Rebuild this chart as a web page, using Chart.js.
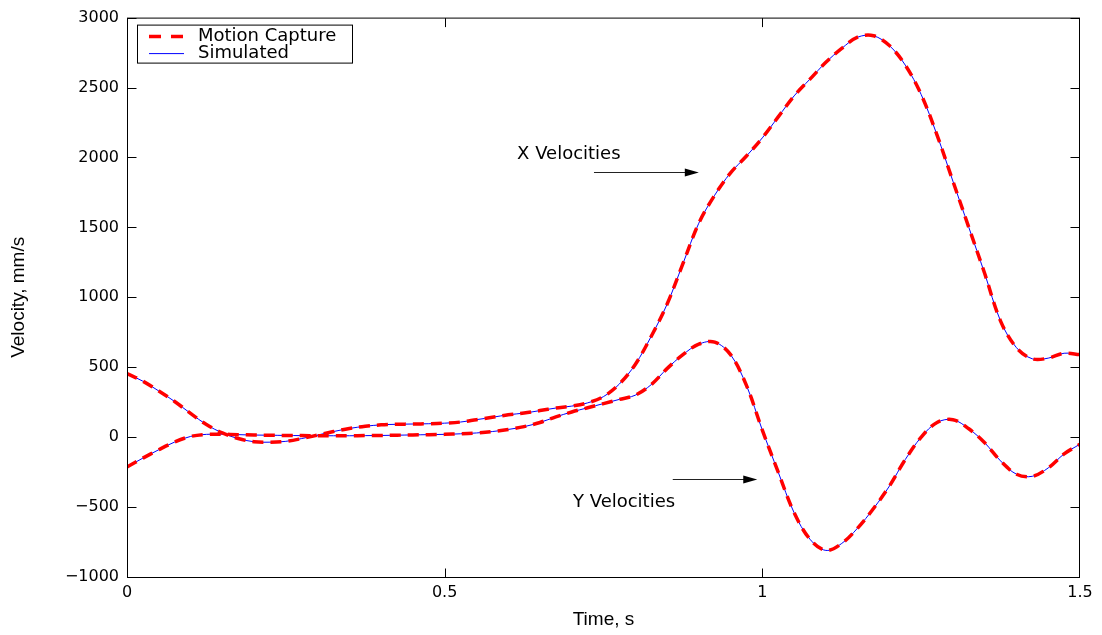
<!DOCTYPE html>
<html>
<head>
<meta charset="utf-8">
<script src="https://cdn.jsdelivr.net/npm/chart.js@4/dist/chart.umd.min.js"></script>
<style>
  body { margin: 0; background: #fff; }
  canvas { display: block; }
</style>
</head>
<body>
<canvas id="velocityChart" width="1102" height="635"></canvas>
<script>
// time axis, seconds
const times = [
    0, 0.025, 0.05, 0.075, 0.1, 0.125, 0.15, 0.175, 0.2, 0.225,
    0.25, 0.275, 0.3, 0.325, 0.35, 0.375, 0.4, 0.425, 0.45, 0.475,
    0.5, 0.525, 0.55, 0.575, 0.6, 0.625, 0.65, 0.675, 0.7, 0.725,
    0.75, 0.775, 0.8, 0.825, 0.85, 0.875, 0.9, 0.925, 0.95, 0.975,
    1.0, 1.025, 1.05, 1.075, 1.1, 1.125, 1.15, 1.175, 1.2, 1.225,
    1.25, 1.275, 1.3, 1.325, 1.35, 1.375, 1.4, 1.425, 1.45, 1.475, 1.5
];

// X velocities, mm/s
const xVelocity = [
    455, 400, 330, 255, 170, 90, 30, -10, -33, -36,
    -30, -10, 15, 40, 62, 78, 88, 92, 94, 96,
    100, 108, 125, 142, 160, 172, 190, 208, 222, 245,
    290, 380, 520, 720, 950, 1240, 1530, 1730, 1890, 2010,
    2140, 2290, 2440, 2560, 2680, 2780, 2860, 2870, 2800, 2660,
    2450, 2160, 1830, 1500, 1170, 830, 640, 560, 565, 600, 590
];

// Y velocities, mm/s
const yVelocity = [
    -213, -150, -90, -35, 5, 20, 21, 18, 15, 14,
    12, 11, 10, 10, 10, 11, 12, 14, 16, 18,
    20, 24, 30, 40, 55, 75, 105, 145, 180, 210,
    240, 270, 300, 375, 490, 590, 665, 680, 590, 370,
    50, -250, -540, -730, -810, -760, -650, -510, -350, -160,
    0, 105, 125, 60, -40, -170, -265, -280, -220, -120, -50
];

const xTickValues = [0, 0.5, 1, 1.5];
const yTickValues = [-1000, -500, 0, 500, 1000, 1500, 2000, 2500, 3000];
const seriesNames = ['Motion Capture', 'Simulated'];

// text + arrow notes, in data units
const notes = [
    { text: 'X Velocities', t: 0.614, v: 2025, from: 0.735, to: 0.900, at: 1895 },
    { text: 'Y Velocities', t: 0.702, v: -466, from: 0.859, to: 0.992, at: -302 }
];

const captureStyle = { borderColor: '#ff0000', borderWidth: 3.5, borderDash: [11, 7] };
const simStyle = { borderColor: '#0000ff', borderWidth: 1, borderDash: [] };

function toPoints(ys) {
    return times.map((t, i) => ({ x: t, y: ys[i] }));
}

function fmt(v) {
    return v < 0 ? '\u2212' + Math.abs(v) : String(v);
}

// MATLAB-ish box, inward ticks, legend and notes
const matlabFrame = {
    id: 'matlabFrame',
    afterDatasetsDraw(chart) {
        const ctx = chart.ctx;
        const area = chart.chartArea;
        const xs = chart.scales.x;
        const ys = chart.scales.y;
        const tickLen = 9;
        const L = area.left + 0.5, R = area.right - 0.5;
        const T = area.top + 0.5, B = area.bottom + 0.5;

        ctx.save();
        ctx.strokeStyle = '#000';
        ctx.lineWidth = 1;
        ctx.strokeRect(L, T, R - L, B - T);

        ctx.beginPath();
        xTickValues.forEach(v => {
            const px = Math.min(Math.max(Math.round(xs.getPixelForValue(v)) + 0.5, L), R);
            ctx.moveTo(px, B);
            ctx.lineTo(px, B - tickLen);
            ctx.moveTo(px, T);
            ctx.lineTo(px, T + tickLen);
        });
        yTickValues.forEach(v => {
            const py = Math.min(Math.max(Math.round(ys.getPixelForValue(v)) + 0.5, T), B);
            ctx.moveTo(L, py);
            ctx.lineTo(L + tickLen, py);
            ctx.moveTo(R, py);
            ctx.lineTo(R - tickLen, py);
        });
        ctx.stroke();

        // legend
        const lx = area.left + 10, ly = area.top + 7;
        ctx.fillStyle = '#fff';
        ctx.fillRect(lx, ly, 215, 38);
        ctx.strokeRect(lx + 0.5, ly + 0.5, 215, 38);
        ctx.font = '18px "DejaVu Sans"';
        ctx.textBaseline = 'middle';
        ctx.fillStyle = '#000';
        [captureStyle, simStyle].forEach((s, i) => {
            const yy = ly + 12 + i * 17;
            ctx.save();
            ctx.strokeStyle = s.borderColor;
            ctx.lineWidth = s === captureStyle ? 3.5 : 1;
            ctx.setLineDash(s === captureStyle ? [12, 10] : []);
            ctx.beginPath();
            ctx.moveTo(lx + 12, yy);
            ctx.lineTo(lx + 47, yy);
            ctx.stroke();
            ctx.restore();
            ctx.fillText(seriesNames[i], lx + 61, yy);
        });

        // notes with arrows
        notes.forEach(n => {
            ctx.fillStyle = '#000';
            ctx.textAlign = 'left';
            ctx.fillText(n.text, xs.getPixelForValue(n.t), ys.getPixelForValue(n.v));
            const x0 = xs.getPixelForValue(n.from);
            const x1 = xs.getPixelForValue(n.to);
            const y0 = Math.round(ys.getPixelForValue(n.at)) + 0.5;
            ctx.strokeStyle = '#222';
            ctx.beginPath();
            ctx.moveTo(x0, y0);
            ctx.lineTo(x1 - 12, y0);
            ctx.stroke();
            ctx.beginPath();
            ctx.moveTo(x1, y0);
            ctx.lineTo(x1 - 14, y0 - 4);
            ctx.lineTo(x1 - 14, y0 + 4);
            ctx.closePath();
            ctx.fill();
        });
        ctx.restore();
    }
};

const tickFont = { family: '"DejaVu Sans"', size: 16 };
const titleFont = { family: '"Liberation Sans"', size: 19 };

new Chart(document.getElementById('velocityChart'), {
    type: 'line',
    data: {
        datasets: [
            Object.assign({ label: 'X ' + seriesNames[0], data: toPoints(xVelocity) }, captureStyle),
            Object.assign({ label: 'Y ' + seriesNames[0], data: toPoints(yVelocity) }, captureStyle),
            Object.assign({ label: 'X ' + seriesNames[1], data: toPoints(xVelocity) }, simStyle),
            Object.assign({ label: 'Y ' + seriesNames[1], data: toPoints(yVelocity) }, simStyle)
        ]
    },
    options: {
        responsive: false,
        animation: false,
        events: [],
        elements: {
            point: { radius: 0 },
            line: { tension: 0.35, fill: false }
        },
        layout: { padding: { left: 0, top: 15, right: 22, bottom: 0 } },
        plugins: {
            legend: { display: false },
            tooltip: { enabled: false }
        },
        scales: {
            x: {
                type: 'linear',
                min: 0,
                max: 1.5,
                afterBuildTicks: s => { s.ticks = xTickValues.map(v => ({ value: v })); },
                afterFit: s => { s.height = 58; },
                grid: { display: false, drawTicks: false },
                border: { display: false },
                ticks: {
                    color: '#000',
                    font: tickFont,
                    padding: 6,
                    maxRotation: 0,
                    callback: v => String(v)
                },
                title: {
                    display: true,
                    text: 'Time, s',
                    color: '#000',
                    font: titleFont,
                    padding: { top: 0, bottom: 4 }
                }
            },
            y: {
                min: -1000,
                max: 3000,
                afterBuildTicks: s => { s.ticks = yTickValues.map(v => ({ value: v })); },
                afterFit: s => { s.width = 127; },
                grid: { display: false, drawTicks: false },
                border: { display: false },
                ticks: {
                    color: '#000',
                    font: tickFont,
                    padding: 8,
                    callback: v => fmt(v)
                },
                title: {
                    display: true,
                    text: 'Velocity, mm/s',
                    color: '#000',
                    font: titleFont,
                    padding: { top: 7, bottom: 0 }
                }
            }
        }
    },
    plugins: [matlabFrame]
});
</script>
</body>
</html>
